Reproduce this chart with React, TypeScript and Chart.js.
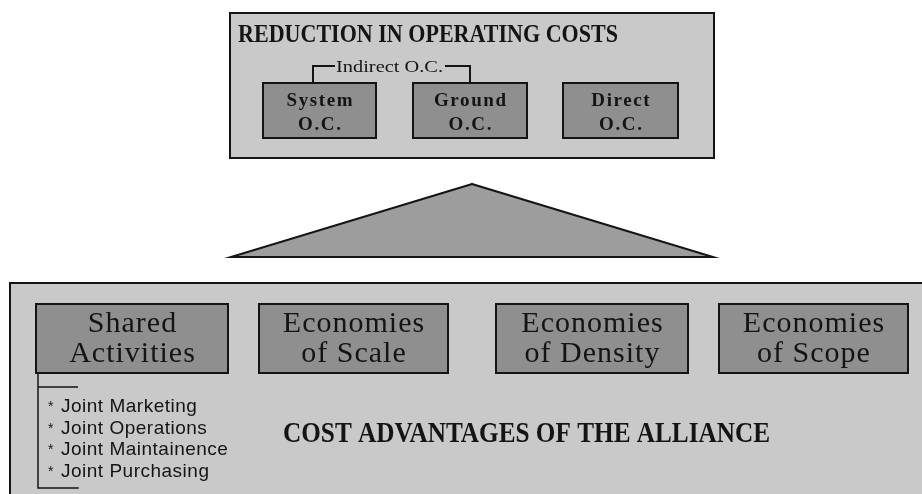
import React, { useEffect, useRef } from "react";
import { Chart, registerables } from "chart.js";

Chart.register(...registerables);

const W = 922;
const H = 494;

// ---- Diagram content (coordinates in diagram units on a 922 x 494 grid) ----
const topPanelX = [230, 714];
const topPanelY = [13, 158];
const topTitle = "REDUCTION IN OPERATING COSTS";
const topTitleX = [238, 618];
const topTitleBaseline = 41.5;

const topBoxNames = [
  ["System", "O.C."],
  ["Ground", "O.C."],
  ["Direct", "O.C."],
];
const topBoxLeft = [263, 413, 563];
const topBoxRight = [376, 527, 678];
const topBoxY = [83, 138];
const topBoxBaselines = [106, 129.5];

const indirectLabel = "Indirect O.C.";
const indirectLabelX = [336, 443];
const indirectBaseline = 71.5;
const indirectLeftX = [313, 313, 334];
const indirectLeftY = [83, 66, 66];
const indirectRightX = [446, 470, 470];
const indirectRightY = [66, 66, 83];

// apex, right corner, left corner, apex
const triangleX = [472, 713, 231, 472];
const triangleY = [184, 257, 257, 184];

const bottomPanelX = [10, 932];
const bottomPanelY = [283, 510];
const bottomTitle = "COST ADVANTAGES OF THE ALLIANCE";
const bottomTitleX = [283, 770];
const bottomTitleBaseline = 441.5;

const bottomBoxNames = [
  ["Shared", "Activities"],
  ["Economies", "of Scale"],
  ["Economies", "of Density"],
  ["Economies", "of Scope"],
];
const bottomBoxLeft = [36, 259, 496, 719];
const bottomBoxRight = [228, 448, 688, 908];
const bottomBoxY = [304, 373];
const bottomBoxBaselines = [331.5, 361.5];

const sharedItems = [
  "Joint Marketing",
  "Joint Operations",
  "Joint Maintainence",
  "Joint Purchasing",
];
const sharedItemBaselines = [412, 433.5, 455, 476.5];
const sharedItemX = [48, 61];
const sharedBracketX = [38, 38, 78, 38, 38, 78];
const sharedBracketY = [373, 387, 387, 387, 488, 488];

// ---- colours ----
const INK = "#141414";
const PANEL_FILL = "#c9c9c9";
const BOX_FILL = "#8f8f8f";
const TRIANGLE_FILL = "#9d9d9d";

type Pt = { x: number; y: number };

const zip = (xs: number[], ys: number[]): Pt[] => xs.map((x, i) => ({ x, y: ys[i] }));
const rect = (x: number[], y: number[]): Pt[] => [
  { x: x[0], y: y[0] },
  { x: x[1], y: y[0] },
  { x: x[1], y: y[1] },
  { x: x[0], y: y[1] },
  { x: x[0], y: y[0] },
];

function shape(data: Pt[], fill: string | null, order: number, width = 2) {
  return {
    data,
    showLine: true,
    fill: fill ? "shape" : false,
    backgroundColor: fill || "rgba(0,0,0,0)",
    borderColor: INK,
    borderWidth: width,
    borderJoinStyle: "miter",
    borderCapStyle: "square",
    pointRadius: 0,
    pointHoverRadius: 0,
    tension: 0,
    order,
  };
}

function drawText(
  ctx: CanvasRenderingContext2D,
  text: string,
  x: number,
  baseline: number,
  font: string,
  opts: { align?: "left" | "center"; spacing?: number; width?: number } = {}
) {
  const spacing = opts.spacing || 0;
  ctx.save();
  ctx.font = font;
  (ctx as any).letterSpacing = spacing + "px";
  ctx.textAlign = "left";
  ctx.textBaseline = "alphabetic";
  ctx.fillStyle = INK;
  const natural = ctx.measureText(text).width - spacing;
  const sx = opts.width ? opts.width / natural : 1;
  ctx.translate(x, baseline);
  ctx.scale(sx, 1);
  const x0 = opts.align === "center" ? -natural / 2 : 0;
  ctx.fillText(text, x0, 0);
  ctx.restore();
}

const labelPlugin = {
  id: "diagramLabels",
  afterDatasetsDraw(chart: any) {
    const { ctx } = chart;
    const xs = chart.scales.x;
    const ys = chart.scales.y;
    const px = (v: number) => xs.getPixelForValue(v);
    const py = (v: number) => ys.getPixelForValue(v);
    const serif = '"Liberation Serif", "Times New Roman", serif';
    const sans = '"Liberation Sans", Arial, sans-serif';

    drawText(ctx, topTitle, px(topTitleX[0]), py(topTitleBaseline), `bold 25px ${serif}`, {
      width: px(topTitleX[1]) - px(topTitleX[0]),
    });
    drawText(ctx, indirectLabel, px(indirectLabelX[0]), py(indirectBaseline), `17px ${serif}`, {
      width: px(indirectLabelX[1]) - px(indirectLabelX[0]),
    });
    topBoxNames.forEach((lines, i) => {
      const cx = px((topBoxLeft[i] + topBoxRight[i]) / 2);
      lines.forEach((t, j) => {
        drawText(ctx, t, cx, py(topBoxBaselines[j]), `bold 19px ${serif}`, {
          align: "center",
          spacing: 1.6,
        });
      });
    });
    bottomBoxNames.forEach((lines, i) => {
      const cx = px((bottomBoxLeft[i] + bottomBoxRight[i]) / 2);
      lines.forEach((t, j) => {
        drawText(ctx, t, cx, py(bottomBoxBaselines[j]), `30px ${serif}`, {
          align: "center",
          spacing: 1,
        });
      });
    });
    drawText(ctx, bottomTitle, px(bottomTitleX[0]), py(bottomTitleBaseline), `bold 30px ${serif}`, {
      width: px(bottomTitleX[1]) - px(bottomTitleX[0]),
    });
    sharedItems.forEach((t, i) => {
      drawText(ctx, "*", px(sharedItemX[0]), py(sharedItemBaselines[i] - 1), `14px ${sans}`);
      drawText(ctx, t, px(sharedItemX[1]), py(sharedItemBaselines[i]), `19px ${sans}`, {
        spacing: 0.5,
      });
    });
  },
};

export default function App() {
  const canvasRef = useRef<HTMLCanvasElement | null>(null);

  useEffect(() => {
    const canvas = canvasRef.current;
    if (!canvas) return;

    const datasets: any[] = [];
    // panels (bottom-most)
    datasets.push(shape(rect(topPanelX, topPanelY), PANEL_FILL, 5));
    datasets.push(shape(rect(bottomPanelX, bottomPanelY), PANEL_FILL, 5));
    // triangle
    datasets.push(shape(zip(triangleX, triangleY), TRIANGLE_FILL, 4));
    // boxes
    topBoxLeft.forEach((l, i) => {
      datasets.push(shape(rect([l, topBoxRight[i]], topBoxY), BOX_FILL, 3));
    });
    bottomBoxLeft.forEach((l, i) => {
      datasets.push(shape(rect([l, bottomBoxRight[i]], bottomBoxY), BOX_FILL, 3));
    });
    // connector lines
    datasets.push(shape(zip(indirectLeftX, indirectLeftY), null, 1, 2));
    datasets.push(shape(zip(indirectRightX, indirectRightY), null, 1, 2));
    datasets.push(shape(zip(sharedBracketX, sharedBracketY), null, 1, 1.5));

    const chart = new Chart(canvas, {
      type: "scatter",
      data: { datasets },
      options: {
        animation: false,
        responsive: false,
        devicePixelRatio: 1,
        events: [],
        layout: { padding: 0 },
        plugins: {
          legend: { display: false },
          tooltip: { enabled: false },
        },
        scales: {
          x: { type: "linear", min: 0, max: W, display: false },
          y: { type: "linear", min: 0, max: H, reverse: true, display: false },
        },
      } as any,
      plugins: [labelPlugin],
    });

    return () => chart.destroy();
  }, []);

  return (
    <div style={{ position: "fixed", left: 0, top: 0, width: W, height: H, background: "#fff" }}>
      <canvas ref={canvasRef} width={W} height={H} style={{ display: "block" }} />
    </div>
  );
}
